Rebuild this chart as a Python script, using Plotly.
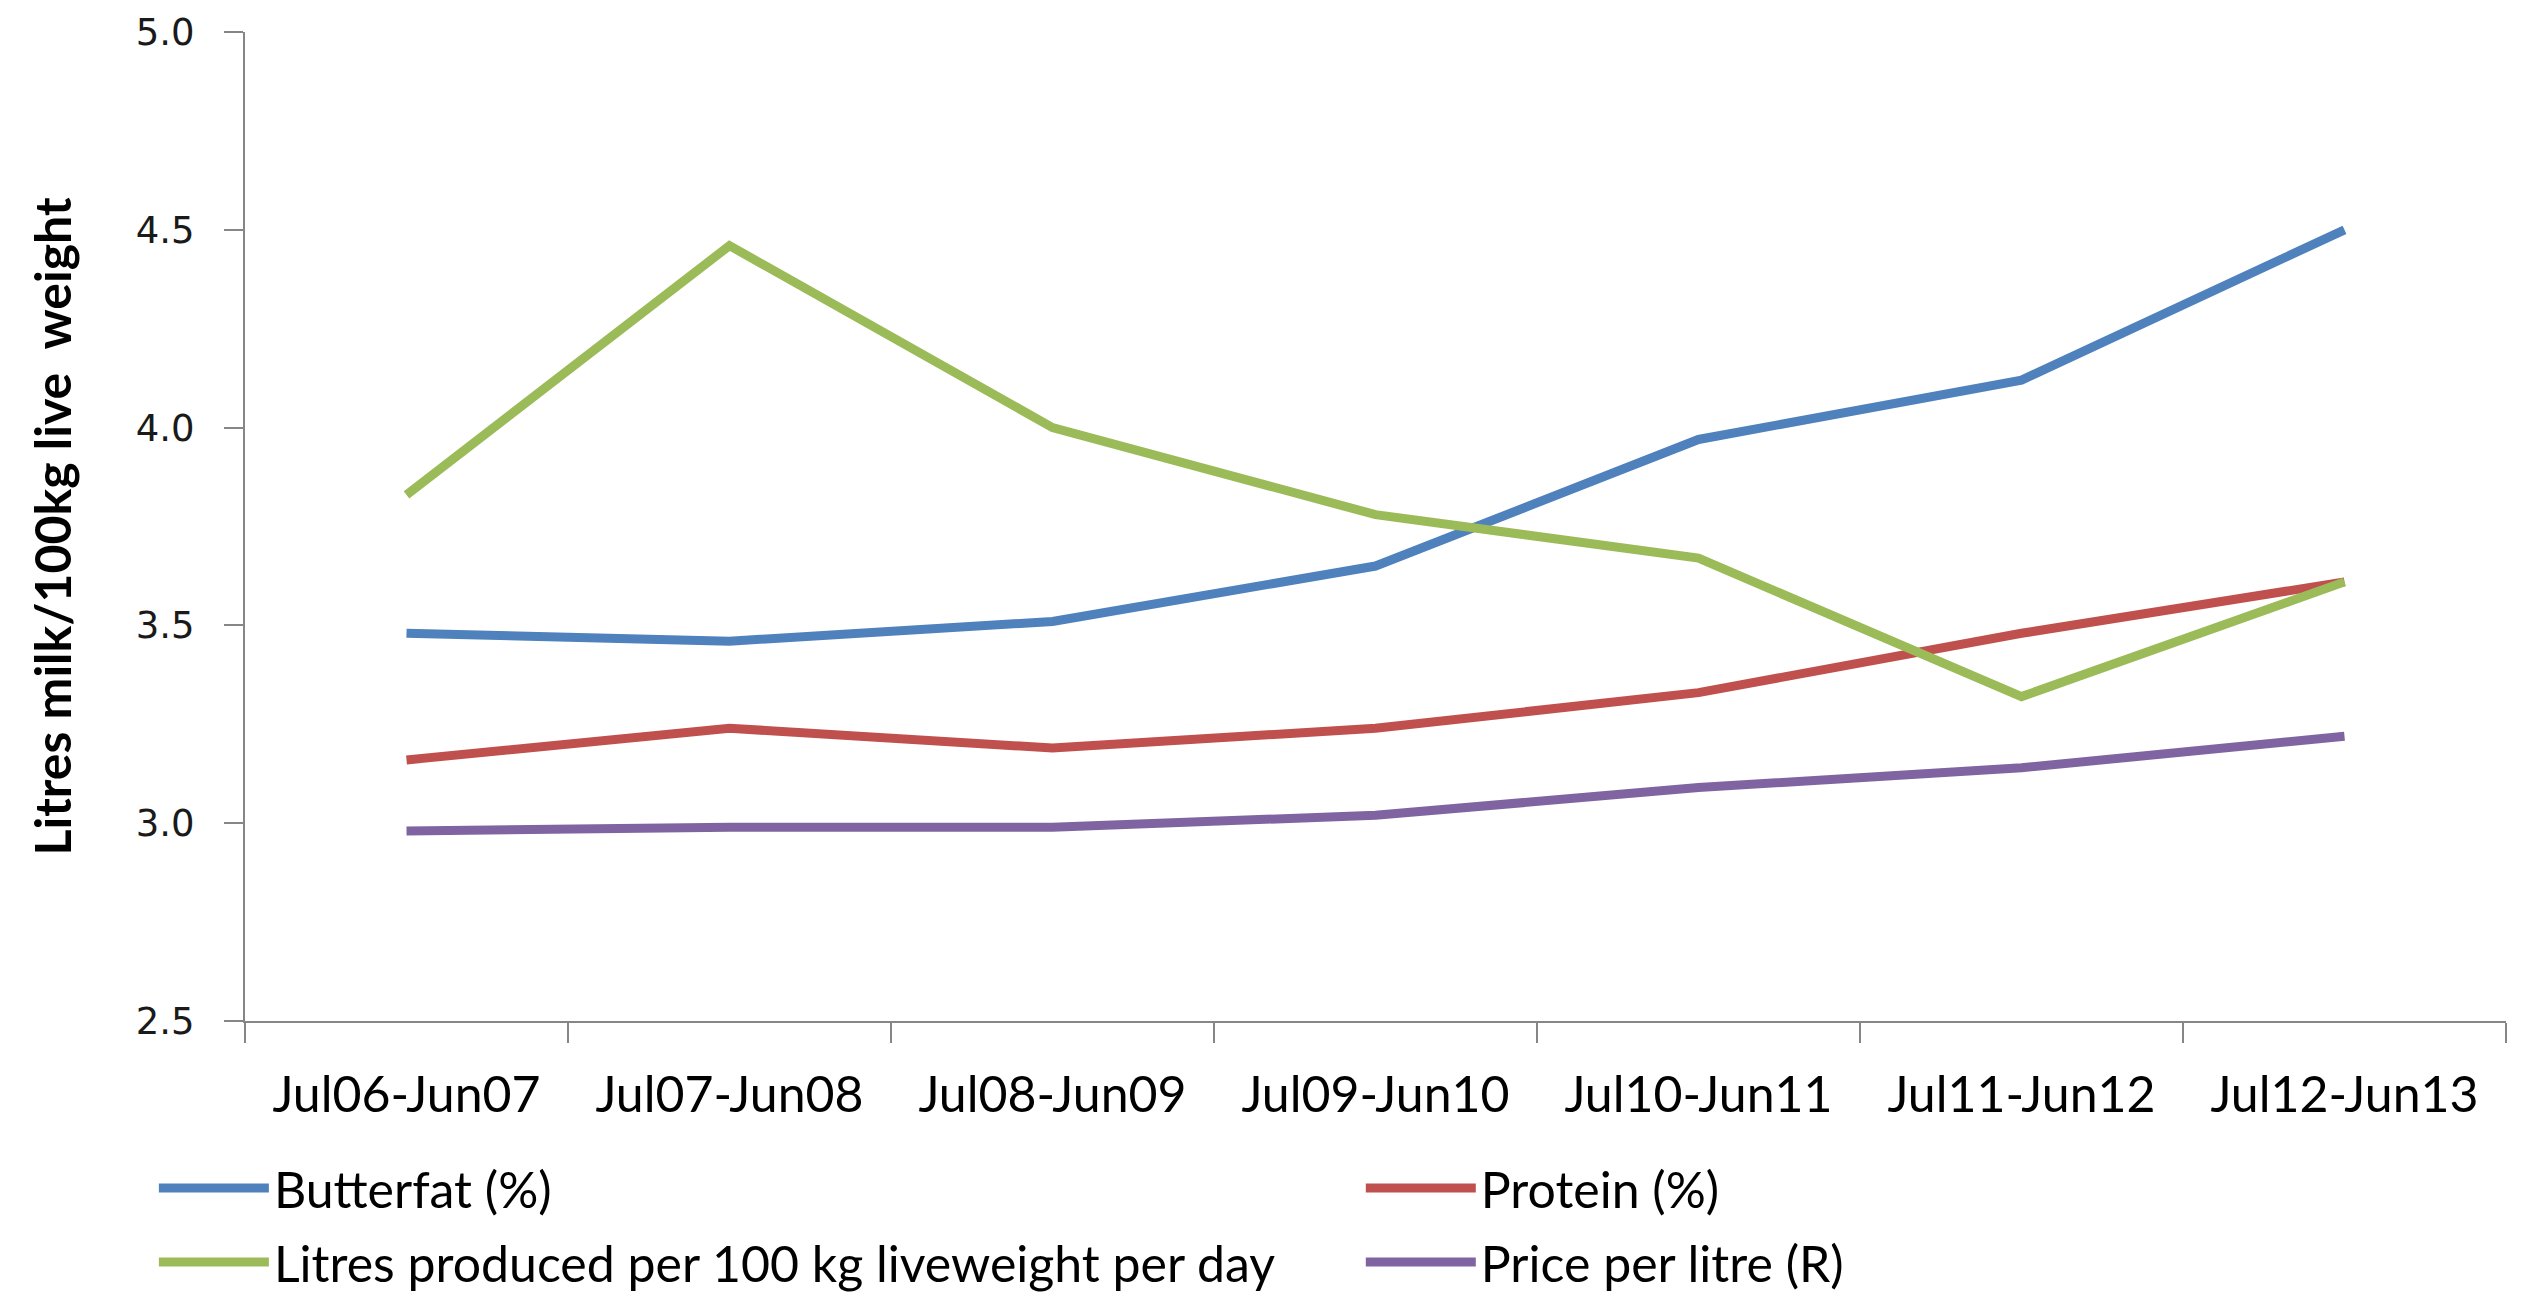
import plotly.graph_objects as go

categories = ["Jul06-Jun07", "Jul07-Jun08", "Jul08-Jun09", "Jul09-Jun10",
              "Jul10-Jun11", "Jul11-Jun12", "Jul12-Jun13"]
butterfat = [3.48, 3.46, 3.51, 3.65, 3.97, 4.12, 4.50]
protein = [3.16, 3.24, 3.19, 3.24, 3.33, 3.48, 3.61]
litres = [3.83, 4.46, 4.00, 3.78, 3.67, 3.32, 3.61]
price = [2.98, 2.99, 2.99, 3.02, 3.09, 3.14, 3.22]

names = ["Butterfat (%)", "Protein (%)",
         "Litres produced per 100 kg liveweight per day", "Price per litre (R)"]
colors = ["#4F81BD", "#C0504D", "#9BBB59", "#8064A2"]
series = [butterfat, protein, litres, price]
legend_ids = ["legend", "legend2", "legend", "legend2"]

fig = go.Figure()
for i, (name, vals, col, lg) in enumerate(zip(names, series, colors, legend_ids)):
    fig.add_trace(go.Scatter(x=categories, y=vals, name=name, mode="lines",
                             line=dict(color=col, width=9),
                             legend=lg, legendgroup=f"g{i}"))

legend_font = dict(family="Lato, Carlito, sans-serif", size=50, color="black")
common_legend = dict(orientation="v", xanchor="left", yanchor="top",
                     xref="paper", yref="paper",
                     font=legend_font, itemwidth=110, tracegroupgap=6,
                     traceorder="grouped", bgcolor="rgba(0,0,0,0)")

fig.update_layout(
    width=2532, height=1309,
    paper_bgcolor="white", plot_bgcolor="white",
    margin=dict(l=245, r=26, t=32, b=288, autoexpand=False),
    showlegend=True,
    legend=dict(x=-0.0403, y=-0.1295, **common_legend),
    legend2=dict(x=0.4935, y=-0.1295, **common_legend),
)
fig.update_xaxes(
    type="category", range=[-0.5, 6.5], automargin=False,
    showline=True, linecolor="#868686", linewidth=2,
    ticks="outside", tickson="boundaries", ticklen=20, tickcolor="#868686", tickwidth=2,
    showgrid=False, zeroline=False,
    tickfont=dict(family="Lato, Carlito, sans-serif", size=50, color="black"),
    ticklabelstandoff=29,
)
fig.update_yaxes(
    range=[2.5, 5.0], dtick=0.5, tick0=2.5, tickformat=".1f", automargin=False,
    showline=True, linecolor="#868686", linewidth=2,
    ticks="outside", ticklen=19, tickcolor="#868686", tickwidth=2,
    showgrid=False, zeroline=False,
    tickfont=dict(family="DejaVu Sans, Verdana, sans-serif", size=37, color="#1a1a1a"),
    ticklabelstandoff=22,
    title=dict(text="<b>Litres milk/100kg live  weight</b>",
               font=dict(family="Liberation Sans Narrow, Lato, sans-serif", size=50, color="black"),
               standoff=48),
)

fig.write_html("out.html", post_script="document.body.style.margin='0';",
               config={"displayModeBar": False})
